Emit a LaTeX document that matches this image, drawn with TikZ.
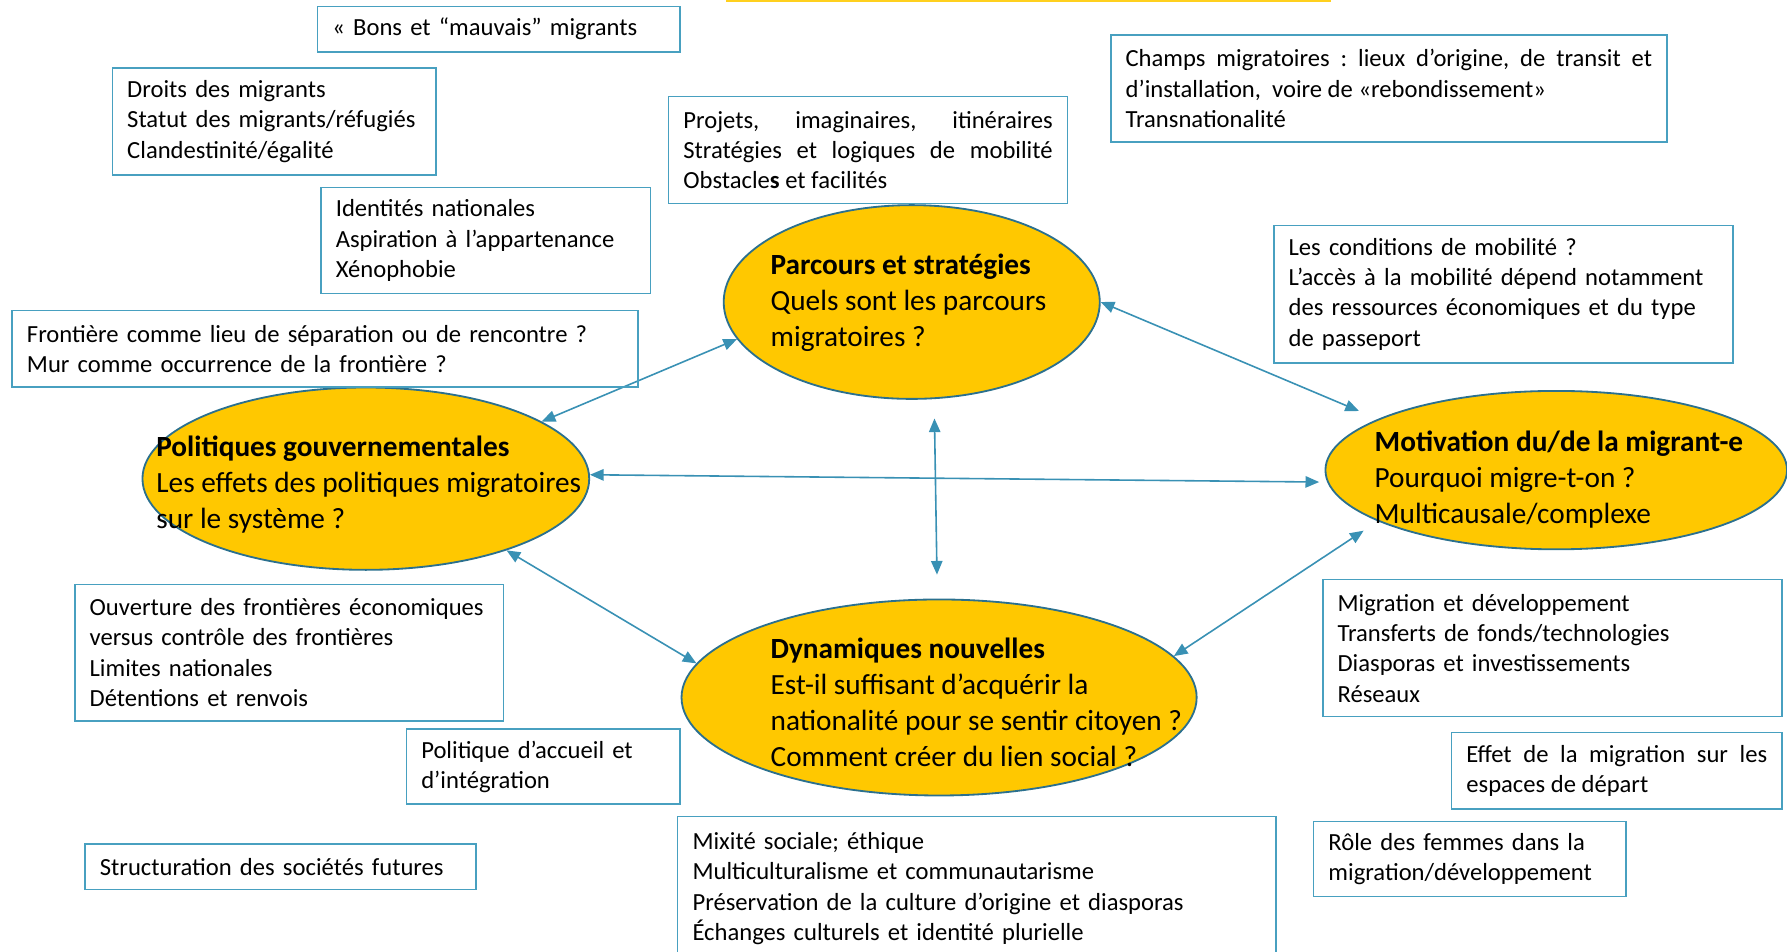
\documentclass[tikz,border=0pt]{standalone}
\usepackage{fontspec}
\setmainfont{Carlito}
\usetikzlibrary{shapes.geometric,arrows.meta}

\definecolor{hubfill}{RGB}{255,200,0}
\definecolor{hubline}{RGB}{43,112,142}
\definecolor{linkblue}{RGB}{57,145,180}
\definecolor{boxline}{RGB}{72,160,192}
\definecolor{titlegold}{RGB}{255,208,30}

\newcommand{\boxsize}{\fontsize{21.6}{26.6}\selectfont\frenchspacing}
\newcommand{\hubsize}{\fontsize{25.7}{31.5}\selectfont\frenchspacing}

\begin{document}
\begin{tikzpicture}[x=1pt,y=-1pt]

	\tikzstyle{hub}=[ellipse,draw=hubline,fill=hubfill,line width=1.6pt,inner sep=0pt]
	\tikzstyle{hubtext}=[anchor=west,align=left,inner sep=0pt,font=\hubsize]
	\tikzstyle{topic}=[draw=boxline,line width=1.3pt,anchor=north west,align=left,inner xsep=13pt,inner ysep=0pt,font=\boxsize]
	\tikzstyle{link}=[draw=linkblue,line width=1.4pt,{Triangle[length=12pt,width=10pt]}-{Triangle[length=12pt,width=10pt]}]

	\useasboundingbox (0,0) rectangle (1568,835);
	\clip (0,0) rectangle (1568,835);

	\node[draw=titlegold,line width=2.5pt,minimum width=528pt,minimum height=40pt,anchor=south west,inner sep=0pt] (title) at (637,2) {};

	\node[hub,minimum width=330pt,minimum height=170pt] (parcours) at (800,265) {};
	\node[hub,minimum width=392pt,minimum height=160pt] (politiques) at (321,420) {};
	\node[hub,minimum width=405pt,minimum height=139pt] (motivation) at (1365.5,412.5) {};
	\node[hub,minimum width=452pt,minimum height=172pt] (dynamiques) at (824,612) {};
%
	\draw[link] (parcours.192) -- (politiques.18);
	\draw[link,shorten >=18pt] (parcours.east) -- (motivation.164);
	\draw[link,shorten >=7pt] (politiques.1) -- (motivation.183);
	\draw[link,shorten <=17pt,shorten >=21pt] (parcours.283) -- (dynamiques.91);
	\draw[link] (politiques.333) -- (dynamiques.172);
	\draw[link,shorten >=15pt] (dynamiques.10) -- (motivation.196);
%
	\node[hubtext] (parcoursT) at (676,265.5) {\textbf{Parcours et stratégies}\\Quels sont les parcours\\migratoires ?};
	\node[hubtext] (politiquesT) at (137,425.5) {\textbf{Politiques gouvernementales}\\Les effets des politiques migratoires\\sur le système ?};
	\node[hubtext] (motivationT) at (1206,420.5) {\textbf{Motivation du/de la migrant-e}\\Pourquoi migre-t-on ?\\Multicausale/complexe};
	\node[hubtext] (dynamiquesT) at (676,616) {\textbf{Dynamiques nouvelles}\\Est-il suffisant d’acquérir la\\nationalité pour se sentir citoyen ?\\Comment créer du lien social ?};
%
	\node[topic,text width=292pt,minimum height=40pt] (bons) at (278,5) {« Bons et “mauvais” migrants};
	\node[topic,text width=258pt,minimum height=94pt] (droits) at (98,59) {Droits des migrants\\Statut des migrants/réfugiés\\Clandestinité/égalité};
	\node[topic,text width=263pt,minimum height=93pt] (identites) at (281,164) {Identités nationales\\Aspiration à l’appartenance\\Xénophobie};
	\node[topic,text width=523pt,minimum height=67pt] (frontiere) at (10,272) {Frontière comme lieu de séparation ou de rencontre ?\\Mur comme occurrence de la frontière ?};
	\node[topic,text width=324pt,minimum height=94pt,align=justify] (projets) at (586,84) {Projets, imaginaires, itinéraires\linebreak Stratégies et logiques de mobilité\linebreak Obstacle\textbf{s} et facilités};
	\node[topic,text width=462pt,minimum height=94pt,align=justify] (champs) at (974,30) {Champs migratoires : lieux d’origine, de transit et\linebreak d’installation,~ voire de «rebondissement»\newline Transnationalité};
	\node[topic,text width=377pt,minimum height=121pt] (conditions) at (1117,197) {Les conditions de mobilité ?\\L’accès à la mobilité dépend notamment\\des ressources économiques et du type\\de passeport};
	\node[topic,text width=350pt,minimum height=120pt] (ouverture) at (65,512) {\mbox{Ouverture des frontières économiques}\\versus contrôle des frontières\\Limites nationales\\Détentions et renvois};
	\node[topic,text width=214pt,minimum height=66pt] (accueil) at (356,639) {Politique d’accueil et\\d’intégration};
	\node[topic,text width=317pt,minimum height=40pt] (structuration) at (74,740) {Structuration des sociétés futures};
	\node[topic,text width=499pt,minimum height=126pt] (mixite) at (594,716) {Mixité sociale; éthique\\Multiculturalisme et communautarisme\\Préservation de la culture d’origine et diasporas\\Échanges culturels et identité plurielle};
	\node[topic,text width=377pt,minimum height=120pt] (developpement) at (1160,508) {Migration et développement\\Transferts de fonds/technologies\\Diasporas et investissements\\Réseaux};
	\node[topic,text width=264pt,minimum height=67pt,align=justify] (effet) at (1273,642) {Effet de la migration sur les\linebreak espaces de départ};
	\node[topic,text width=248pt,minimum height=66pt] (role) at (1152,720) {Rôle des femmes dans la\\migration/développement};
\end{tikzpicture}
\end{document}
